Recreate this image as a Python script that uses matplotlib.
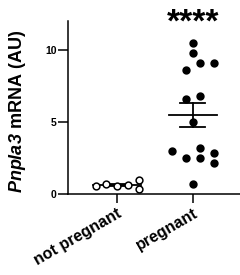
import numpy as np
import matplotlib
matplotlib.use("Agg")
import matplotlib.pyplot as plt

plt.rcParams['font.family'] = ['Liberation Sans', 'DejaVu Sans']
plt.rcParams['mathtext.fontset'] = 'custom'
plt.rcParams['mathtext.bfit'] = 'Liberation Sans:italic:bold'
plt.rcParams['mathtext.rm'] = 'Liberation Sans:bold'

categories = ["not pregnant", "pregnant"]
not_pregnant = [0.57, 0.69, 0.57, 0.62, 0.96, 0.32]
not_pregnant_offsets = [-0.28, -0.14, 0.0, 0.145, 0.29, 0.29]
pregnant = [10.48, 9.79, 9.04, 9.04, 8.62, 6.56, 6.77, 5.02,
            2.96, 2.5, 3.17, 2.5, 2.87, 2.16, 0.67]
pregnant_offsets = [0.0, 0.0, 0.093, 0.28, -0.093, -0.093, 0.093, 0.0,
                    -0.28, -0.093, 0.093, 0.093, 0.28, 0.28, 0.0]
yticks = [0, 5, 10]
significance = "****"

fig = plt.figure(figsize=(2.4, 2.75), dpi=100)
ax = fig.add_axes([0.283, 0.2945, 0.717, 0.6302])

groups = [(0, not_pregnant, not_pregnant_offsets, 'white'),
          (1, pregnant, pregnant_offsets, 'black')]
for xi, vals, offs, fc in groups:
    vals = np.array(vals)
    m = vals.mean()
    sem = vals.std(ddof=1) / np.sqrt(len(vals))
    ax.plot([xi - 0.32, xi + 0.32], [m, m], color='black', lw=1.3, zorder=2)
    ax.plot([xi, xi], [m - sem, m + sem], color='black', lw=1.3, zorder=2)
    for s in (m - sem, m + sem):
        ax.plot([xi - 0.165, xi + 0.165], [s, s], color='black', lw=1.3, zorder=2)
    ax.scatter(xi + np.array(offs), vals, s=24, facecolor=fc,
               edgecolor='black', linewidth=1.1, zorder=3)

ax.set_xlim(-0.645, 1.62)
ax.set_ylim(0, 12)
ax.set_xticks([0, 1])
ax.set_xticklabels(categories, rotation=30, ha='right', rotation_mode='anchor',
                   fontsize=11.5, fontweight='bold')
ax.set_yticks(yticks)
ax.set_yticklabels([str(t) for t in yticks], fontsize=7.5, fontweight='bold')
ax.tick_params(axis='x', length=6.5, width=1.1, pad=2)
ax.tick_params(axis='y', length=7, width=1.1, pad=1)
for s in ('top', 'right'):
    ax.spines[s].set_visible(False)
for s in ('left', 'bottom'):
    ax.spines[s].set_linewidth(1.1)

ax.set_ylabel(r'$\mathbfit{Pnpla3}$ mRNA (AU)', fontsize=13, fontweight='bold')
ax.yaxis.set_label_coords(-0.233, 0.476)
ax.text(1, 11.25, significance, ha='center', va='baseline', fontsize=24,
        fontweight='bold', clip_on=False)

fig.savefig("out.png", dpi=100)
